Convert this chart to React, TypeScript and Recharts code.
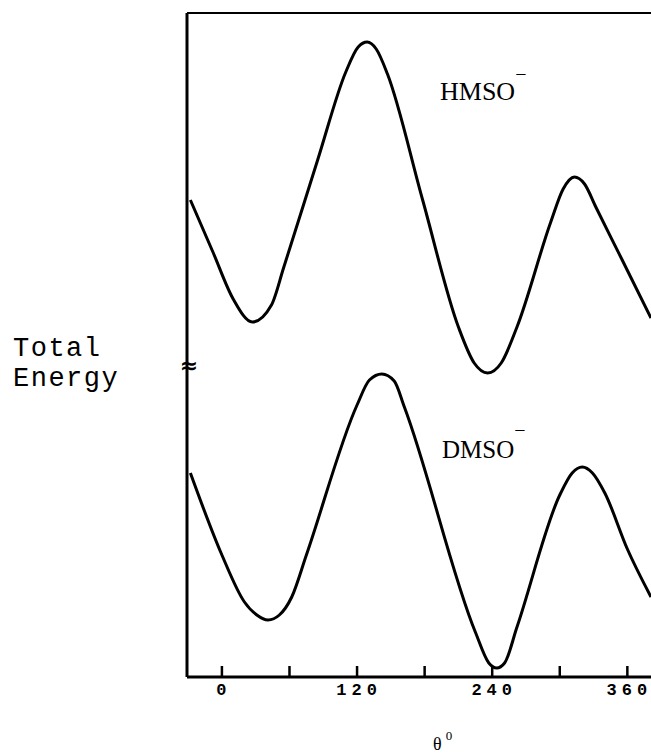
import { LineChart, Line, XAxis, YAxis, ReferenceLine } from "recharts";

// torsion angle (deg) and total energy (arbitrary units, curves offset for display)
const hmsoAngle = [-28, -8, 10, 27, 44, 55, 85, 110, 121, 129, 137, 147, 178, 210, 224, 236, 248, 262, 292, 303, 313, 322, 332, 355, 381];
const hmsoEnergy = [477, 425, 378, 355, 372, 410, 517, 605, 630, 635, 628, 603, 478, 350, 314, 304, 314, 350, 455, 488, 500, 493, 470, 418, 359];

const dmsoAngle = [-28, 0, 20, 31, 41, 51, 62, 75, 120, 131, 142, 153, 162, 225, 237, 244, 251, 262, 300, 311, 320, 329, 340, 360, 381];
const dmsoEnergy = [204, 122, 75, 62, 57, 62, 80, 122, 272, 297, 303, 296, 270, 45, 14, 9, 14, 50, 182, 204, 210, 204, 184, 128, 80];

const angleTicks = [0, 60, 120, 180, 240, 300, 360];
const labelledTicks = [0, 120, 240, 360];

const hmso = hmsoAngle.map((angle, i) => ({ angle, energy: hmsoEnergy[i] }));
const dmso = dmsoAngle.map((angle, i) => ({ angle, energy: dmsoEnergy[i] }));

function AngleTick({ x, y, payload }: any) {
  const v = payload.value;
  return (
    <g>
      <line x1={x} y1={y} x2={x} y2={y - 11} stroke="#000" strokeWidth={2.5} />
      {labelledTicks.includes(v) && (
        <text
          x={x + 2}
          y={y + 18}
          textAnchor="middle"
          fontFamily="'Liberation Mono', monospace"
          fontWeight="bold"
          fontSize={17}
          letterSpacing={5}
          fill="#000"
        >
          {v}
        </text>
      )}
    </g>
  );
}

export default function App() {
  return (
    <div style={{ position: "absolute", left: 0, top: 0, width: 651, height: 753, background: "#fff" }}>
      <LineChart width={651} height={753} margin={{ top: 13, right: 0, bottom: 0, left: 187 }}>
        <XAxis
          dataKey="angle"
          type="number"
          domain={[-31, 381]}
          allowDataOverflow
          ticks={angleTicks}
          tickLine={false}
          tickSize={0}
          tickMargin={0}
          height={76}
          axisLine={{ stroke: "#000", strokeWidth: 3 }}
          tick={<AngleTick />}
        />
        <YAxis type="number" domain={[0, 664]} hide />
        <ReferenceLine y={664} stroke="#000" strokeWidth={2} />
        <ReferenceLine x={-31} stroke="#000" strokeWidth={3} />
        <Line data={hmso} dataKey="energy" type="monotone" stroke="#000" strokeWidth={3} dot={false} isAnimationActive={false} />
        <Line data={dmso} dataKey="energy" type="monotone" stroke="#000" strokeWidth={3} dot={false} isAnimationActive={false} />

        <text x={440} y={100} fontFamily="'Liberation Serif', serif" fontSize={26} fill="#000">
          HMSO<tspan fontSize={20} dy={-19}>−</tspan>
        </text>
        <text x={442} y={458} fontFamily="'Liberation Serif', serif" fontSize={25} fill="#000">
          DMSO<tspan fontSize={20} dy={-21}>−</tspan>
        </text>

        <text x={13} y={356} fontFamily="'Liberation Mono', monospace" fontSize={27} letterSpacing={1.5} fill="#000">
          Total
        </text>
        <text x={13} y={386} fontFamily="'Liberation Mono', monospace" fontSize={27} letterSpacing={1.5} fill="#000">
          Energy
        </text>
        <text x={189} y={373} textAnchor="middle" fontFamily="'DejaVu Sans', sans-serif" fontWeight="bold" fontSize={22} fill="#000">
          ≈
        </text>

        <text x={433} y={750} fontFamily="'Liberation Serif', serif" fontSize={18} fill="#000">
          θ<tspan fontSize={13} dx={4} dy={-10}>0</tspan>
        </text>
      </LineChart>
    </div>
  );
}
